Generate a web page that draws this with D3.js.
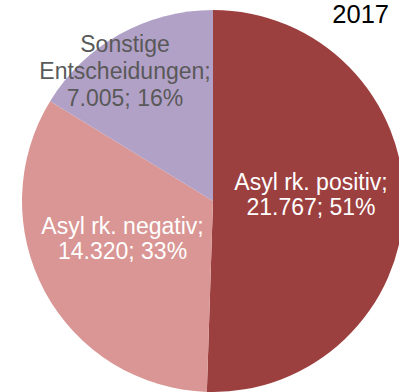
<!DOCTYPE html>
<html>
<head>
<meta charset="utf-8">
<script src="https://cdn.jsdelivr.net/npm/d3@7"></script>
<style>
  html, body { margin: 0; padding: 0; background: #fff; }
  svg { display: block; font-family: "Liberation Sans", Arial, sans-serif; }
</style>
</head>
<body>
<svg id="chart" width="399" height="392"></svg>
<script>
// Asylum decisions 2017
const categories = ["Asyl rk. positiv", "Asyl rk. negativ", "Sonstige Entscheidungen"];
const values = [21767, 14320, 7005];
const percents = [51, 33, 16];
const colors = ["#9C3F3F", "#D99694", "#B2A1C7"];
const labelColors = ["#ffffff", "#ffffff", "#595959"];
const title = "2017";

const fmt = d3.formatLocale({ decimal: ",", thousands: ".", grouping: [3], currency: ["", " €"] }).format(",d");

const svg = d3.select("#chart");
const cx = 213, cy = 201, radius = 191;

const data = categories.map((c, i) => ({ name: c, value: values[i], pct: percents[i], i }));

const pie = d3.pie().sort(null).value(d => d.value);
const arcs = pie(data);
const arc = d3.arc().innerRadius(0).outerRadius(radius);

const g = svg.append("g").attr("transform", `translate(${cx},${cy})`);

g.selectAll("path")
  .data(arcs)
  .join("path")
  .attr("d", arc)
  .attr("fill", d => colors[d.data.i]);

// Label text per slice
const labelLines = [
  d => [d.name + ";", fmt(d.value) + "; " + d.pct + "%"],
  d => [d.name + ";", fmt(d.value) + "; " + d.pct + "%"],
  d => ["Sonstige", "Entscheidungen;", fmt(d.value) + "; " + d.pct + "%"]
];
// Label placement relative to the pie centre: [dx, first baseline dy, line gap]
const labelLayout = [[98, -11, 24.5], [-90.5, 33, 24.5], [-88, -149, 27]];
const fontSize = 23;

arcs.forEach(a => {
  const i = a.data.i;
  const lines = labelLines[i](a.data);
  const [dx, dy, gap] = labelLayout[i];
  const t = g.append("text")
    .attr("text-anchor", "middle")
    .attr("font-size", fontSize)
    .attr("fill", labelColors[i]);
  lines.forEach((ln, k) => {
    t.append("tspan").attr("x", dx).attr("y", dy + k * gap).text(ln);
  });
});

svg.append("text")
  .attr("x", 389).attr("y", 22.5)
  .attr("text-anchor", "end")
  .attr("font-size", 25.5)
  .attr("fill", "#000")
  .text(title);
</script>
</body>
</html>
